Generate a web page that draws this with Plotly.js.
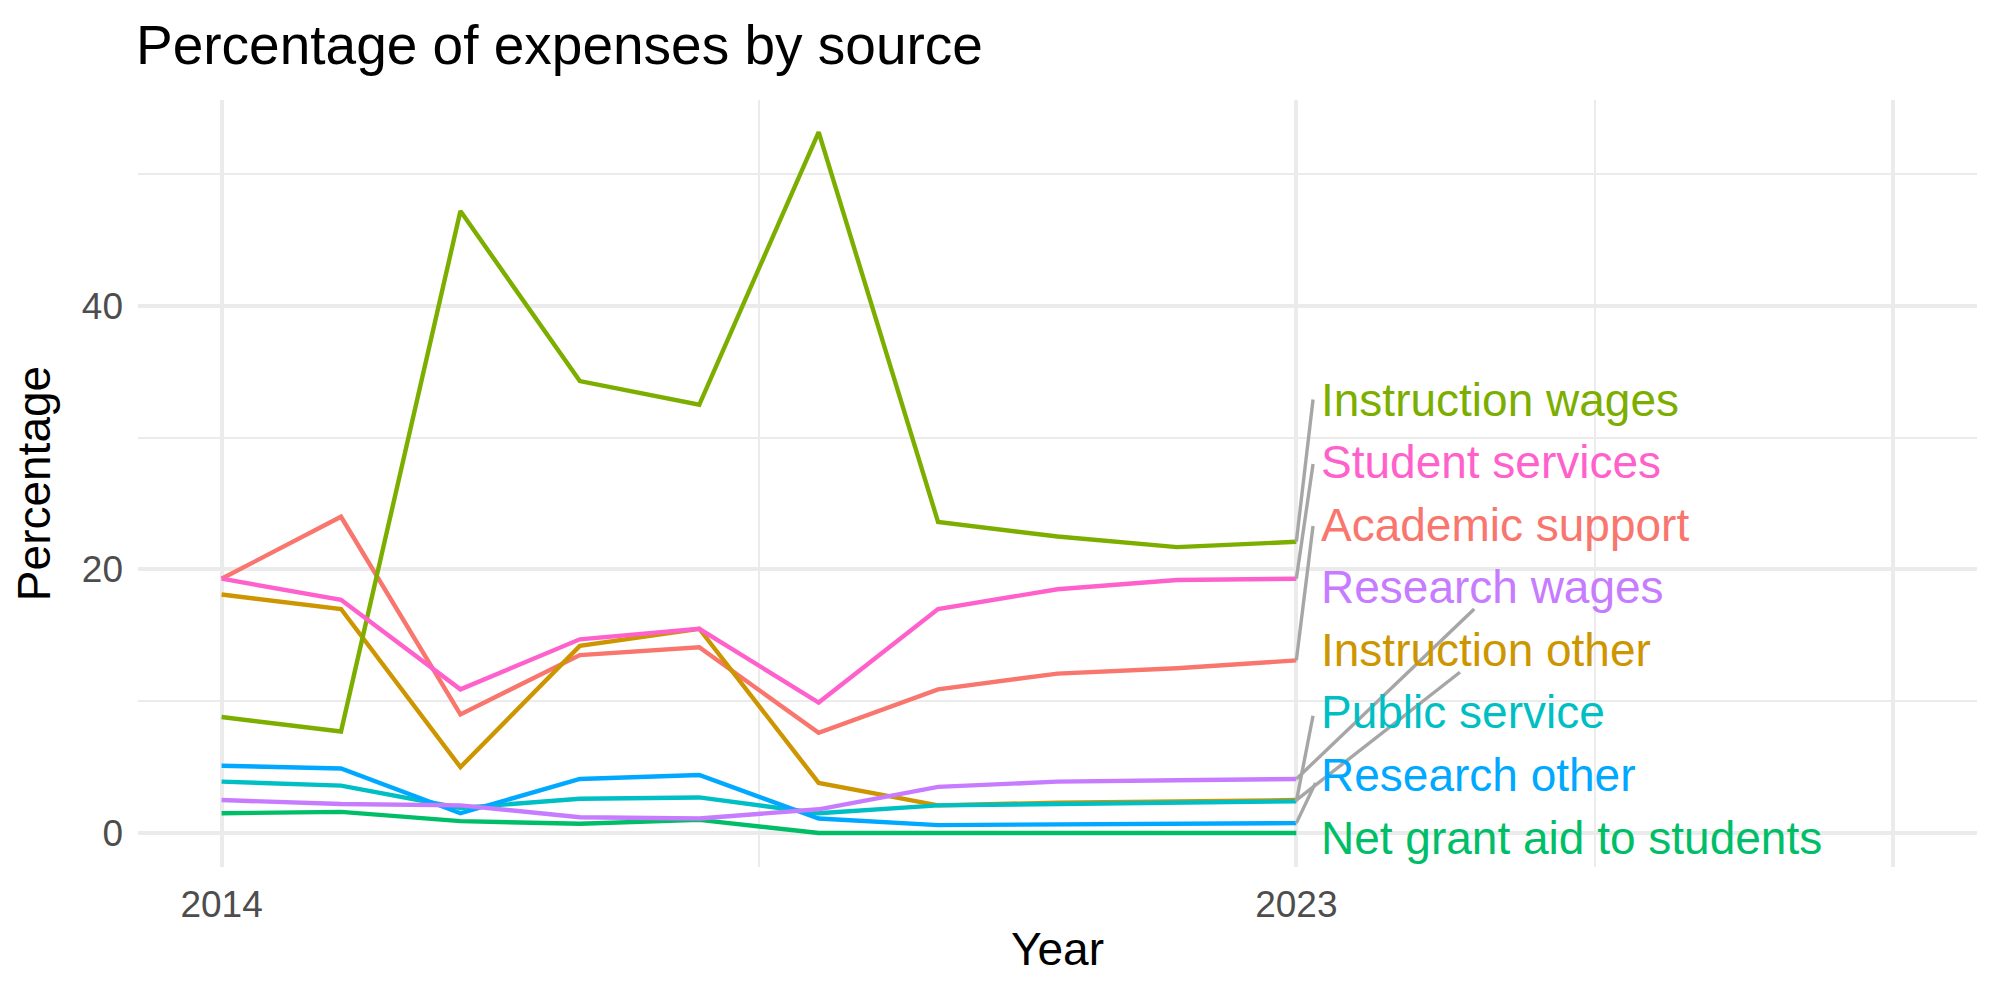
<!DOCTYPE html>
<html>
<head>
<meta charset="utf-8">
<script src="https://cdn.plot.ly/plotly-3.0.1.min.js"></script>
<style>
  html, body { margin: 0; padding: 0; background: #ffffff; }
  #chart { width: 2000px; height: 1000px; }
</style>
</head>
<body>
<div id="chart"></div>
<script>
// Fiscal years covered
const years = [2014, 2015, 2016, 2017, 2018, 2019, 2020, 2021, 2022, 2023];

// Share of total expenses (%) for each source, one value per year
const academicSupport  = [19.3, 24.0, 9.0, 13.5, 14.1, 7.6, 10.9, 12.1, 12.5, 13.1];
const instructionOther = [18.1, 17.0, 5.0, 14.2, 15.5, 3.8, 2.1, 2.3, 2.4, 2.5];
const instructionWages = [8.8, 7.7, 47.2, 34.3, 32.5, 53.2, 23.6, 22.5, 21.7, 22.1];
const netGrantAid      = [1.5, 1.6, 0.9, 0.7, 1.0, 0.0, 0.0, 0.0, 0.0, 0.0];
const publicService    = [3.9, 3.6, 1.9, 2.6, 2.7, 1.5, 2.1, 2.2, 2.3, 2.4];
const researchOther    = [5.1, 4.9, 1.5, 4.1, 4.4, 1.1, 0.6, 0.65, 0.7, 0.75];
const researchWages    = [2.5, 2.2, 2.1, 1.2, 1.1, 1.8, 3.5, 3.9, 4.0, 4.1];
const studentServices  = [19.3, 17.7, 10.9, 14.7, 15.5, 9.9, 17.0, 18.5, 19.2, 19.3];

// Source names (alphabetical, as the series are drawn)
const sourceNames = [
  "Academic support", "Instruction other", "Instruction wages",
  "Net grant aid to students", "Public service", "Research other",
  "Research wages", "Student services"
];

// Axis tick labels
const xTickLabels = ["2014", "2023"];
const yTickLabels = ["0", "20", "40"];

// ---------------------------------------------------------------------------
const seriesValues = [
  academicSupport, instructionOther, instructionWages, netGrantAid,
  publicService, researchOther, researchWages, studentServices
];
const palette = ["#F8766D", "#CD9600", "#7CAE00", "#00BE67",
                 "#00BFC4", "#00A9FF", "#C77CFF", "#FF61CC"];
const FONT = "Liberation Sans, Arial, Helvetica, sans-serif";
const lastYear = years[years.length - 1];

const traces = seriesValues.map((vals, i) => ({
  type: "scatter",
  mode: "lines",
  name: sourceNames[i],
  x: years,
  y: vals,
  line: { color: palette[i], width: 4.4 },
  hoverinfo: "x+y+name"
}));

// End labels: stacked in order of final value, top to bottom
const order = seriesValues
  .map((v, i) => i)
  .sort((a, b) => seriesValues[b][seriesValues[b].length - 1] - seriesValues[a][seriesValues[a].length - 1]);
const labelTop = 32.9, labelStep = 4.75, labelX = 2023.19;

// Where each connector meets its label box, as offsets from the label slot
// [dx in years from the last year, dy from the slot centre]; null = no connector
const connectorEnds = {
  "Instruction wages": [0.14, 0.0],
  "Student services": [0.14, -0.15],
  "Academic support": [0.14, -0.1],
  "Research wages": [1.49, -1.65],
  "Instruction other": [1.37, -1.7],
  "Public service": [0.14, -0.25],
  "Research other": [0.16, -0.6],
  "Net grant aid to students": null
};

const annotations = [];
const connectorTraces = [];
order.forEach((idx, slot) => {
  const name = sourceNames[idx];
  const ySlot = labelTop - slot * labelStep;
  annotations.push({
    x: labelX, y: ySlot, xref: "x", yref: "y",
    text: name, showarrow: false,
    xanchor: "left", yanchor: "middle",
    font: { family: FONT, size: 46, color: palette[idx] }
  });
  const end = connectorEnds[name];
  if (end) {
    const vals = seriesValues[idx];
    connectorTraces.push({
      type: "scatter", mode: "lines",
      x: [lastYear, lastYear + end[0]],
      y: [vals[vals.length - 1], ySlot + end[1]],
      line: { color: "#A6A6A6", width: 3.4 },
      hoverinfo: "skip", showlegend: false
    });
  }
});

const layout = {
  width: 2000,
  height: 1000,
  margin: { l: 138, r: 23, t: 100, b: 133, pad: 0 },
  paper_bgcolor: "#ffffff",
  plot_bgcolor: "#ffffff",
  font: { family: FONT, color: "#000000" },
  showlegend: false,
  title: {
    text: "Percentage of expenses by source",
    xref: "container", yref: "container",
    x: 0.068, xanchor: "left",
    y: 0.955, yanchor: "middle",
    font: { family: FONT, size: 55, color: "#000000" }
  },
  xaxis: {
    range: [2013.3, 2028.7],
    tickmode: "array",
    tickvals: [2014, 2023, 2028],
    ticktext: xTickLabels.concat([""]),
    showgrid: true, gridcolor: "#EBEBEB", gridwidth: 4.4,
    minor: { tickmode: "array", tickvals: [2018.5, 2025.5], showgrid: true,
             gridcolor: "#EBEBEB", gridwidth: 2.2, ticks: "" },
    zeroline: false, showline: false, ticks: "",
    tickfont: { family: FONT, size: 37, color: "#4D4D4D" },
    ticklabelstandoff: 12,
    title: { text: "Year", font: { family: FONT, size: 46, color: "#000000" }, standoff: 8 },
    automargin: false, fixedrange: true
  },
  yaxis: {
    range: [-2.58, 55.63],
    tickmode: "array",
    tickvals: [0, 20, 40],
    ticktext: yTickLabels,
    showgrid: true, gridcolor: "#EBEBEB", gridwidth: 4.4,
    minor: { tickmode: "array", tickvals: [10, 30, 50], showgrid: true,
             gridcolor: "#EBEBEB", gridwidth: 2.2, ticks: "" },
    zeroline: false, showline: false, ticks: "",
    tickfont: { family: FONT, size: 37, color: "#4D4D4D" },
    ticklabelstandoff: 14,
    title: { text: "Percentage", font: { family: FONT, size: 46, color: "#000000" }, standoff: 16 },
    automargin: false, fixedrange: true
  },
  annotations: annotations
};

Plotly.newPlot("chart", traces.concat(connectorTraces), layout,
  { displayModeBar: false, staticPlot: false, responsive: false });
</script>
</body>
</html>
